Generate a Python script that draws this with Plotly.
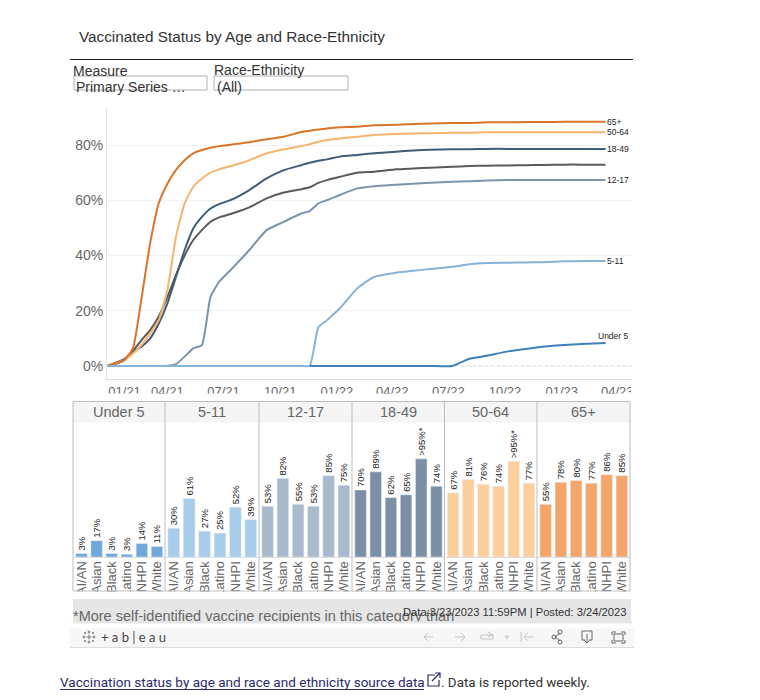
import plotly.graph_objects as go

dates = ["2020-12-24","2021-01-07","2021-01-21","2021-02-04","2021-02-18","2021-03-04","2021-03-18","2021-04-01",
         "2021-04-15","2021-04-29","2021-05-13","2021-05-27","2021-06-10","2021-06-24","2021-07-15","2021-08-12",
         "2021-09-09","2021-10-07","2021-11-04","2021-11-18","2021-12-02","2021-12-16","2022-01-06","2022-02-03",
         "2022-03-03","2022-04-07","2022-05-05","2022-06-02","2022-07-07","2022-08-04","2022-09-01","2022-10-06",
         "2022-11-03","2022-12-01","2023-01-05","2023-02-02","2023-03-13"]

age_65 = [0,1,2.2,6.4,24.5,44.4,58.9,66,71,74.5,77,78.2,79,79.6,80.2,81,82.1,83,84.7,85.2,85.6,86,86.4,86.6,87.2,87.3,87.6,87.8,88,88,88.2,88.2,88.3,88.3,88.4,88.4,88.4]
age_50 = [0,1,2,4.5,7.6,11.8,16.6,27.5,46.8,58.9,64.9,67.9,70,71.2,72.5,74.5,77,78.4,79.6,80.3,81.2,81.8,82.4,83,83.6,84,84.2,84.3,84.4,84.4,84.6,84.6,84.6,84.6,84.6,84.6,84.6]
age_18 = [0,0.8,2,5.2,7,10,15.4,22.7,32.3,42,49.8,54,57,58.6,60.3,63.7,67.9,70.9,72.7,73.6,74.3,74.8,75.8,76.4,77,77.6,78,78.3,78.5,78.5,78.6,78.6,78.6,78.6,78.6,78.6,78.6]
age_all = [0,1.2,2.5,5.5,9.4,13,17.9,25,33,40,45.6,49.2,52.2,53.8,55.2,57.4,60.7,62.8,64,64.7,66.3,67.3,68.5,70,70.3,71.2,71.5,71.8,72.1,72.4,72.5,72.6,72.7,72.8,72.9,72.9,72.9]
age_12 = [0,0,0,0,0,0,0,0.1,0.7,3.4,6.4,7.6,25,30.5,35.3,42,49.2,52.2,55.2,56.1,58.9,60,61.9,64.3,65.1,65.6,66,66.3,66.7,66.9,67.2,67.3,67.3,67.3,67.3,67.3,67.3]
age_5 = [0,0,0,0,0,0,0,0,0,0,0,0,0,0,0,0,0,0,0,0.1,14,16.6,20.9,28.1,32.3,33.8,34.5,35.1,35.9,36.8,37.3,37.4,37.5,37.6,37.9,38,38]
age_u5 = [None]*19 + [0,0,0,0,0,0,0,0,0,0,2.6,3.7,5.3,6.2,7,7.6,8,8.3]

tick_dates = ["2021-01-01","2021-04-01","2021-07-01","2021-10-01","2022-01-01","2022-04-01","2022-07-01","2022-10-01","2023-01-01","2023-04-01"]
tick_text = ["\u00a0\u00a0\u00a0\u00a0\u00a0\u00a0\u00a001/21","04/21","07/21","10/21","01/22","04/22","07/22","10/22","01/23","04/23"]

groups = ["AI/AN","Asian","Black","Latino","NHPI","White"]
panels = ["Under 5","5-11","12-17","18-49","50-64","65+"]
bar_under5 = [3.7,17,3.7,3,14,11]
bar_5 = [30,61,27,25,52,39]
bar_12 = [53,82,55,53,85,75]
bar_18 = [70,89,62,65,102.6,74]
bar_50 = [67,81,76,74,100,77]
bar_65 = [55,78,80,77,86,85]
lab_under5 = ["3%","17%","3%","3%","14%","11%"]
lab_5 = ["30%","61%","27%","25%","52%","39%"]
lab_12 = ["53%","82%","55%","53%","85%","75%"]
lab_18 = ["70%","89%","62%","65%",">95%*","74%"]
lab_50 = ["67%","81%","76%","74%",">95%*","77%"]
lab_65 = ["55%","78%","80%","77%","86%","85%"]

# the page body has an 8px margin, so the figure is placed from (8, 8)
W, H = 744, 684
X = lambda p: (p - 8) / W
Y = lambda p: 1 - (p - 8) / H
ARIAL = "Liberation Sans, Arial, sans-serif"

fig = go.Figure()

line_series = [(age_all,"#5a5a5a","All"),(age_12,"#7b94ac","12-17"),(age_18,"#3f5c79","18-49"),
               (age_50,"#f6b56f","50-64"),(age_65,"#da7429","65+"),(age_5,"#86b4d9","5-11"),(age_u5,"#3f80bb","Under 5")]
for vals, col, name in line_series:
    fig.add_trace(go.Scatter(x=dates, y=vals, mode="lines", name=name, line=dict(color=col, width=2, shape="spline", smoothing=0.5),
                             showlegend=False, connectgaps=False))

fig.update_layout(
    xaxis=dict(domain=[X(107), X(632)], range=["2020-12-24","2023-04-25"], type="date", tickmode="array", automargin=False,
               tickvals=tick_dates, ticktext=tick_text, showgrid=False, showline=True, linecolor="#dddddd", linewidth=1,
               tickfont=dict(family=ARIAL, size=13, color="#666666"), ticks="", anchor="y", zeroline=False, ticklabelstandoff=0),
    yaxis=dict(domain=[Y(379), Y(108)], range=[-4.7, 93.4], tickmode="array", tickvals=[0,20,40,60,80], automargin=False,
               ticktext=["0%","20%","40%","60%","80%"], gridcolor="#f2f2f2", gridwidth=1, showline=True, linecolor="#e4e4e4",
               zeroline=False, tickfont=dict(family=ARIAL, size=14, color="#666666"), anchor="x"),
)

bar_sets = [(bar_under5,lab_under5,"#6fa8da"),(bar_5,lab_5,"#a9cce9"),(bar_12,lab_12,"#a8bacb"),
            (bar_18,lab_18,"#7c90a5"),(bar_50,lab_50,"#fccf9e"),(bar_65,lab_65,"#f4a56a")]
edges = [73,165,259,352,444.5,537,630]
for i, (vals, labs, col) in enumerate(bar_sets):
    n = str(i + 2)
    fig.add_trace(go.Bar(x=groups, y=vals, text=labs, textposition="outside", textangle=-90, cliponaxis=False,
                         constraintext="none", textfont=dict(family=ARIAL, size=9.5, color="#222222"),
                         marker=dict(color=col), width=0.76, xaxis="x"+n, yaxis="y"+n, showlegend=False, name=panels[i]))
    fig.layout["xaxis"+n] = dict(domain=[X(edges[i]+1), X(edges[i+1]-0.5)], type="category", categoryorder="array", categoryarray=groups,
                                 anchor="y"+n, tickangle=-90, tickfont=dict(family=ARIAL, size=13, color="#666666"),
                                 tickmode="array", tickvals=groups, ticktext=groups, automargin=False, ticklabelstandoff=-2,
                                 showgrid=False, showline=True, linecolor="#dddddd", ticks="", zeroline=False)
    fig.layout["yaxis"+n] = dict(domain=[Y(557), Y(423)], range=[0,140], visible=False, anchor="x"+n, automargin=False)

shapes = []
def rect(x0,y0,x1,y1,fill,line=None):
    shapes.append(dict(type="rect",xref="paper",yref="paper",x0=X(x0),x1=X(x1),y0=Y(y0),y1=Y(y1),fillcolor=fill,
                       line=dict(color=line or fill,width=1 if line else 0),layer="above"))
def seg(pts,color,width=1,dash="solid",layer="above"):
    path = "M " + " L ".join(f"{X(a):.5f},{Y(b):.5f}" for a,b in pts)
    shapes.append(dict(type="path",xref="paper",yref="paper",path=path,line=dict(color=color,width=width,dash=dash),layer=layer))

# clipping covers for the date labels
rect(60,393.5,640,401,"#ffffff")
rect(631,384,645,401,"#ffffff")
seg([(107,366),(632,366)],"#c8c8c8",1,"dot","below")
# title rule and filter boxes
seg([(70,59.5),(633,59.5)],"#222222",1)
rect(74,76,207,90,"rgba(0,0,0,0)","#b0b0b0")
rect(214,76,348,90,"rgba(0,0,0,0)","#b0b0b0")
# bar panels
rect(73,402,630,422.5,"#f5f5f5")
rect(60,591.5,640,600,"#ffffff")
seg([(73,401.5),(630,401.5)],"#bdbdbd")
seg([(73,591),(630,591)],"#c4c4c4")
for e in edges:
    seg([(e,401.5),(e,591)],"#bdbdbd")
# footer and toolbar
rect(73,599,631,623,"#e6e6e6")
rect(70,627,634,647,"#f7f7f7")
seg([(70,647.5),(634,647.5)],"#dcdcdc")
seg([(60,689.5),(424,689.5)],"#2b2b6b")
# toolbar icons
g1, g2 = "#c4c4c4", "#666666"
seg([(424,637),(433,637)],g1); seg([(428,633),(424,637),(428,641)],g1)
seg([(455,637),(465,637)],g1); seg([(461,633),(465,637),(461,641)],g1)
seg([(481,639),(481,635),(493,635),(493,639),(481,639)],g1); seg([(488,632),(493,635),(488,637)],g1)
seg([(505,636),(509,636),(507,639),(505,636)],g1)
seg([(521,632),(521,642)],g1); seg([(524,637),(533,637)],g1); seg([(528,633),(524,637),(528,641)],g1)
seg([(555,637),(560,633)],g2); seg([(555,637),(560,641)],g2)
for cx,cy in [(554,637),(560,632),(560,642)]:
    shapes.append(dict(type="circle",xref="paper",yref="paper",x0=X(cx-2),x1=X(cx+2),y0=Y(cy-2),y1=Y(cy+2),line=dict(color=g2,width=1),layer="above"))
seg([(585,640),(582,640),(582,631),(592,631),(592,640),(589,640)],g2); seg([(587,634),(587,643)],g2); seg([(584,640),(587,643),(590,640)],g2)
seg([(612,635),(612,632),(616,632)],g2); seg([(621,632),(625,632),(625,635)],g2); seg([(612,640),(612,643),(616,643)],g2); seg([(621,643),(625,643),(625,640)],g2)
seg([(614,634),(623,634),(623,641),(614,641),(614,634)],g2)
# tableau mark
for cx,cy,r in [(89,637,2.5),(84,637,1.5),(94,637,1.5),(89,632,1.5),(89,642,1.5),(85,633,1),(93,633,1),(85,641,1),(93,641,1)]:
    seg([(cx-r,cy),(cx+r,cy)],"#777777"); seg([(cx,cy-r),(cx,cy+r)],"#777777")
# external-link icon
seg([(435,675),(428,675),(428,686),(439,686),(439,680)],"#2b2b6b",1.2)
seg([(432,681),(440,673)],"#2b2b6b",1.2); seg([(435,673),(440,673),(440,678)],"#2b2b6b",1.2)
fig.layout.shapes = shapes

anns = []
def txt(x,y,s,size,color="#333333",anchor="left",family=ARIAL,**kw):
    anns.append(dict(xref="paper",yref="paper",x=X(x),y=Y(y),text=s,showarrow=False,xanchor=anchor,yanchor="middle",
                     font=dict(family=family,size=size,color=color),borderpad=0,borderwidth=0,**kw))
def mask(x,y,w,h,col):
    anns.append(dict(xref="paper",yref="paper",x=X(x),y=Y(y),xanchor="left",yanchor="top",text=" ",showarrow=False,
                     width=w,height=h,bgcolor=col,borderpad=0,font=dict(size=1)))

txt(79,36,"Vaccinated Status by Age and Race-Ethnicity",15.3,"#333333")
txt(73,71,"Measure",14)
txt(214,70,"Race-Ethnicity",14)
txt(76,87,"Primary Series …",14)
txt(217,87,"(All)",14)
for i,p in enumerate(panels):
    txt((edges[i]+edges[i+1])/2,412,p,14.5,"#666666","center")
txt(73,615.8,"*More self-identified vaccine recipients in this category than",14.5,"#666666")
mask(73,620.5,558,3,"#e6e6e6")
mask(70,623,564,4,"#ffffff")
txt(627,612,"Data:3/23/2023 11:59PM | Posted: 3/24/2023",11.2,"#333333","right")
txt(101,637,"+ a b | e a u",13,"#444444",family="Lato, sans-serif")
txt(60,682,"Vaccination status by age and race and ethnicity source data",13.55,"#2b2b6b",family="Roboto, sans-serif")
txt(441,682,". Data is reported weekly.",13.4,"#333333",family="Roboto, sans-serif")

for name, vals in [("65+",age_65),("50-64",age_50),("18-49",age_18),("12-17",age_12),("5-11",age_5)]:
    anns.append(dict(xref="x",yref="y",x=dates[-1],y=vals[-1],text=name,showarrow=False,xanchor="left",xshift=-1,
                     font=dict(family=ARIAL,size=8.5,color="#222222")))
anns.append(dict(xref="x",yref="y",x=dates[-1],y=age_u5[-1],text="Under 5",showarrow=False,xanchor="right",xshift=25,yshift=7,
                 font=dict(family=ARIAL,size=8.5,color="#222222")))
fig.layout.annotations = anns

fig.update_layout(width=W,height=H,margin=dict(l=0,r=0,t=0,b=0),paper_bgcolor="#ffffff",plot_bgcolor="#ffffff",
                  bargap=0.24,hovermode="closest",showlegend=False)
fig.write_html("out.html")
